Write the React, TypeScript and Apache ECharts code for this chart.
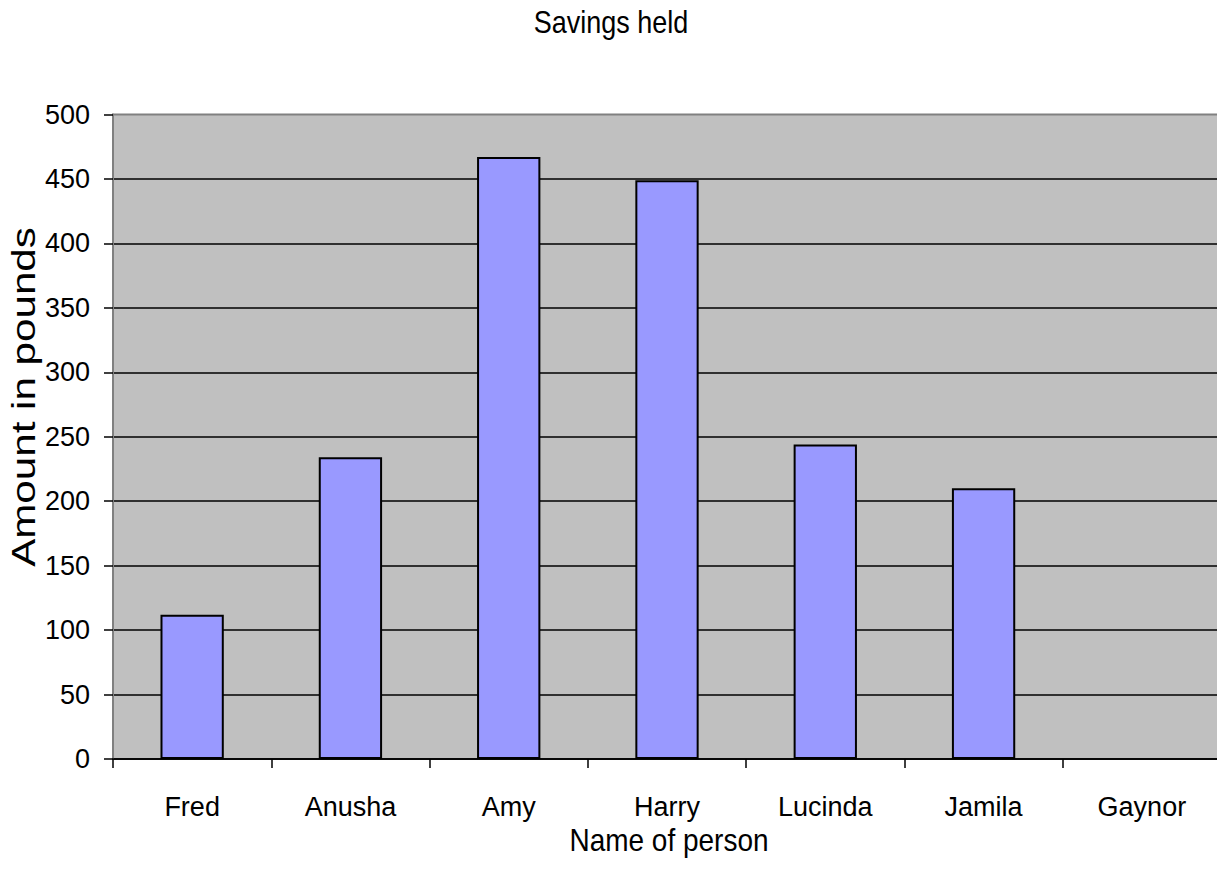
import React, { useEffect, useRef } from "react";
import * as echarts from "echarts";

const categories = ["Fred", "Anusha", "Amy", "Harry", "Lucinda", "Jamila", "Gaynor"];
const savings: (number | null)[] = [112, 234, 467, 449, 244, 210, null];
const titleText = "Savings held";
const xAxisName = "Name of person";
const yAxisName = "Amount in pounds";

const SANS = "'Liberation Sans', Arial, sans-serif";

export default function App() {
  const ref = useRef<HTMLDivElement>(null);
  useEffect(() => {
    document.documentElement.style.overflow = "hidden";
    const chart = echarts.init(ref.current!, null, { renderer: "svg" });
    chart.setOption({
      animation: false,
      backgroundColor: "#ffffff",
      grid: {
        left: 113,
        top: 114.5,
        right: 9,
        bottom: 121,
        show: true,
        backgroundColor: "#C0C0C0",
        borderColor: "#808080",
        borderWidth: 2,
        containLabel: false,
      },
      graphic: [
        {
          type: "text",
          x: 611,
          y: 22,
          scaleY: 1.15,
          style: {
            text: titleText,
            fontFamily: SANS,
            fontSize: 27,
            fill: "#000",
            align: "center",
            verticalAlign: "middle",
          },
        },
        {
          type: "text",
          x: 669,
          y: 840,
          scaleY: 1.15,
          style: {
            text: xAxisName,
            fontFamily: SANS,
            fontSize: 28,
            fill: "#000",
            align: "center",
            verticalAlign: "middle",
          },
        },
        {
          type: "text",
          x: 23,
          y: 397,
          rotation: Math.PI / 2,
          scaleX: 1.24,
          style: {
            text: yAxisName,
            fontFamily: SANS,
            fontSize: 34,
            fill: "#000",
            align: "center",
            verticalAlign: "middle",
          },
        },
      ],
      xAxis: {
        type: "category",
        data: categories,
        axisLine: { show: true, lineStyle: { color: "#000", width: 1.5 } },
        axisTick: { show: true, length: 9, lineStyle: { color: "#000", width: 1.5 }, alignWithLabel: false },
        axisLabel: { color: "#000", fontFamily: SANS, fontSize: 27, margin: 34, interval: 0 },
        splitLine: { show: false },
      },
      yAxis: {
        type: "value",
        min: 0,
        max: 500,
        interval: 50,
        axisLine: { show: true, lineStyle: { color: "#808080", width: 2 } },
        axisTick: { show: true, length: 9, lineStyle: { color: "#000", width: 1.5 } },
        axisLabel: { color: "#000", fontFamily: SANS, fontSize: 27, margin: 23 },
        splitLine: { show: true, showMaxLine: false, lineStyle: { color: "#000", width: 1.5 } },
      },
      series: [
        {
          type: "bar",
          data: savings,
          barWidth: "40%",
          itemStyle: { color: "#9999FF", borderColor: "#000", borderWidth: 2 },
        },
      ],
    });
    return () => chart.dispose();
  }, []);
  return (
    <div
      ref={ref}
      style={{ position: "fixed", left: 0, top: 0, width: 1230, height: 880 }}
    />
  );
}
